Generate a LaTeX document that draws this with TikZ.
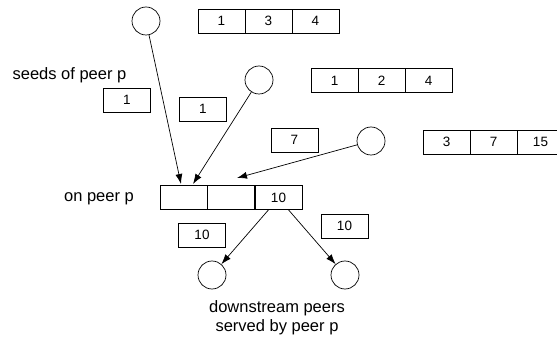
\documentclass[tikz,border=0pt]{standalone}
\usepackage{fontspec}
\setmainfont{Liberation Sans}
\usetikzlibrary{arrows.meta}

\begin{document}
\begin{tikzpicture}[x=1pt, y=-1pt, line width=0.7pt, >={Latex[length=10pt,width=7pt]},
    peer/.style={draw, circle, minimum size=28pt, inner sep=0pt},
    cell/.style={draw, minimum width=47pt, minimum height=24pt, inner sep=0pt, font=\fontsize{13.5}{16}\selectfont},
    lbl/.style={font=\fontsize{16.5}{19}\selectfont, inner sep=0pt}]
    \useasboundingbox (0,0) rectangle (557,339);
    % upstream peers and their buffers
    \node[peer] (s1) at (146,21) {};
    \node[peer] (s2) at (259,80) {};
    \node[peer] (s3) at (371,141) {};
    \node[cell] (a1) at (221.5,21) {1}; \node[cell] (a2) at (268.5,21) {3}; \node[cell] (a3) at (315.5,21) {4};
    \node[cell] (b1) at (334.5,80.5) {1}; \node[cell] (b2) at (381.5,80.5) {2}; \node[cell] (b3) at (428.5,80.5) {4};
    \node[cell] (c1) at (446.5,142) {3}; \node[cell] (c2) at (493.5,142) {7}; \node[cell] (c3) at (540.5,142) {15};
    \node[lbl] (seeds) at (69.5,75) {seeds of peer p};
    \node[cell] (g1) at (127,100) {1};
    \node[cell] (g2) at (203,109) {1};
    \node[cell] (g3) at (294.5,140) {7};
    % buffer on peer p
    \node[lbl] (on) at (99,199) {on peer p};
    \node[cell] (m1) at (183.5,197.5) {}; \node[cell] (m2) at (231,197.5) {}; \node[cell] (m3) at (278.5,197.5) {10};
    \coordinate (t1) at (181,184); \coordinate (t2) at (193,184); \coordinate (t3) at (237,178);
    \draw[->] (s1) -- (t1);
    \draw[->] (s2) -- (t2);
    \draw[->] (s3) -- (t3);
    % downstream peers
    \node[peer] (d1) at (212,275) {};
    \node[peer] (d2) at (345,275) {};
    \node[cell] (h1) at (202,235) {10};
    \node[cell] (h2) at (344.5,226) {10};
    \draw[->] ([xshift=-10pt]m3.south) -- (d1);
    \draw[->] ([xshift=10pt]m3.south) -- (d2);
    \node[lbl, align=center] (down) at (277,318) {downstream peers\\served by peer p};
\end{tikzpicture}
\end{document}
